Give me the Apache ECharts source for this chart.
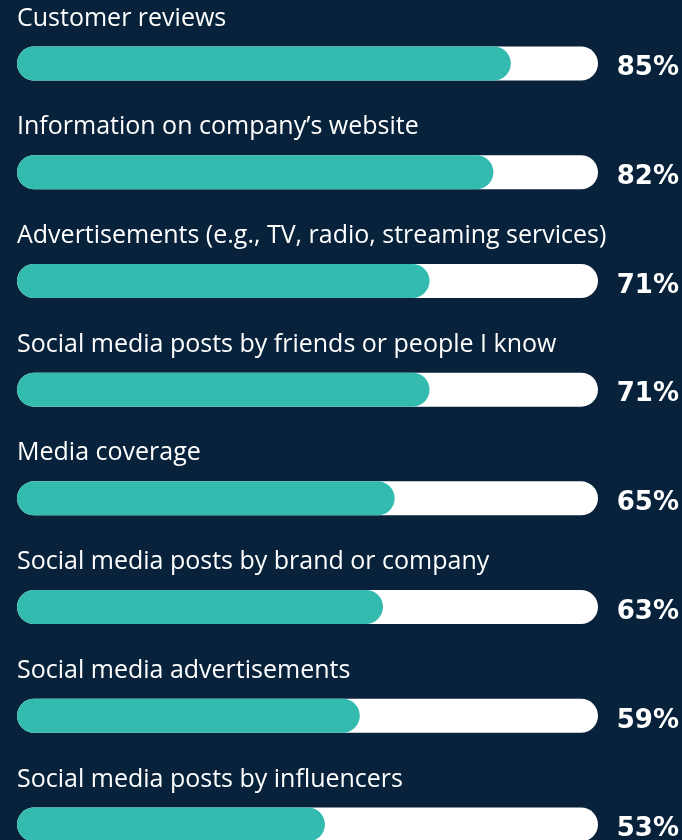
<!DOCTYPE html>
<html><head><meta charset="utf-8">
<script src="https://cdn.jsdelivr.net/npm/echarts@6/dist/echarts.min.js"></script>
<style>html,body{margin:0;padding:0;background:#07223a;}#c{width:682px;height:840px;}</style>
</head><body><div id="c"></div>
<script>
const categories = [
  "Customer reviews",
  "Information on company\u2019s website",
  "Advertisements (e.g., TV, radio, streaming services)",
  "Social media posts by friends or people I know",
  "Media coverage",
  "Social media posts by brand or company",
  "Social media advertisements",
  "Social media posts by influencers"
];
const values = [85, 82, 71, 71, 65, 63, 59, 53];
const trackMax = 100;

const chart = echarts.init(document.getElementById('c'));
chart.setOption({
  backgroundColor: '#07223a',
  animation: false,
  grid: { left: 17, width: 581, top: 63.5, height: 761 },
  xAxis: { type: 'value', min: 0, max: trackMax, show: false },
  yAxis: { type: 'category', data: categories, inverse: true, show: false, boundaryGap: false },
  series: [
    {
      type: 'bar', barWidth: 34, barGap: '-100%', silent: true,
      data: categories.map(() => trackMax),
      itemStyle: { color: '#ffffff', borderRadius: 17 },
      label: {
        show: true, position: [0, -28], formatter: '{b}',
        color: '#ffffff', fontFamily: 'Open Sans', fontSize: 25,
        align: 'left', verticalAlign: 'middle'
      }
    },
    {
      type: 'bar', barWidth: 34, barGap: '-100%', silent: true,
      data: values,
      itemStyle: { color: '#34bbb0', borderRadius: 17 }
    },
    {
      type: 'bar', barWidth: 34, barGap: '-100%', silent: true,
      data: categories.map(() => trackMax),
      itemStyle: { color: 'rgba(0,0,0,0)' },
      label: {
        show: true, position: ['100%', '50%'], offset: [81, 5],
        formatter: p => values[p.dataIndex] + '%',
        color: '#ffffff', fontFamily: 'DejaVu Sans', fontWeight: 'bold', fontSize: 26,
        align: 'right', verticalAlign: 'middle'
      }
    }
  ]
});
</script></body></html>
